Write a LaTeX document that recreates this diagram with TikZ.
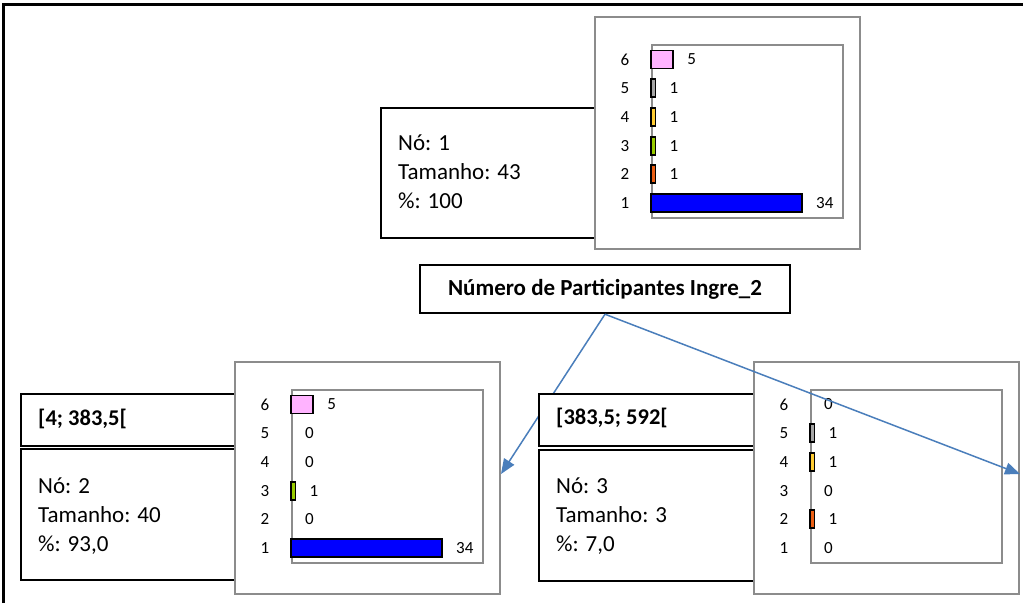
\documentclass[tikz,border=0pt]{standalone}
\usepackage{fontspec}
\setmainfont{Carlito}
\usetikzlibrary{arrows.meta,calc}
\definecolor{boxgray}{RGB}{140,140,140}
\definecolor{connblue}{RGB}{74,126,187}
\definecolor{cone}{RGB}{0,0,255}
\definecolor{ctwo}{RGB}{235,95,20}
\definecolor{cthree}{RGB}{153,204,0}
\definecolor{cfour}{RGB}{255,204,51}
\definecolor{cfive}{RGB}{165,165,165}
\definecolor{csix}{RGB}{255,179,255}
\pgfdeclarelayer{back}
\pgfsetlayers{back,main}
\tikzset{
  frameline/.style={line width=3pt, black},
  chartbox/.style={draw=boxgray, line width=2pt, fill=white, minimum width=265pt, minimum height=232pt, inner sep=0pt},
  plotbox/.style={draw=boxgray, line width=2pt, minimum width=191pt, minimum height=173pt, inner sep=0pt},
  bar/.style={draw=black, line width=1.8pt},
  rowlab/.style={font=\fontsize{17}{19}\selectfont, inner sep=0pt},
  vallab/.style={font=\fontsize{17}{19}\selectfont, inner sep=0pt, anchor=west},
  infobox/.style={draw=black, line width=2.4pt, fill=white, inner sep=0pt},
  infotext/.style={font=\fontsize{23}{29}\selectfont, align=left, inner sep=0pt, anchor=west},
  hdrtext/.style={font=\bfseries\fontsize{22.5}{24}\selectfont, inner sep=0pt, anchor=west},
  titlebox/.style={draw=black, line width=2.4pt, fill=white, minimum width=370pt, minimum height=48pt, inner sep=0pt, font=\bfseries\fontsize{23}{26}\selectfont},
  conn/.style={draw=connblue, line width=1.5pt, -{Triangle[length=15pt,width=12pt]}}
}
\newcommand\mychart[4]{%
  \node[chartbox, anchor=north west] (#1) at (#2,#3) {};
  \node[plotbox, anchor=north west] (#1in) at (#2+57,#3+28) {};
  \foreach \v/\c [count=\i] in {#4}{
    \pgfmathsetmacro\ry{#3+187-28.7*(\i-1)}
    \node[rowlab] (#1r\i) at (#2+31,\ry) {\i};
    \ifnum\v>0
      \draw[bar, fill=\c] (#2+57,\ry-9) rectangle ++(4.44*\v,18);
    \fi
    \node[vallab] (#1v\i) at (#2+57+4.44*\v+14,\ry) {\v};
  }
}
\begin{document}
\begin{tikzpicture}[x=1pt,y=-1pt]
\useasboundingbox (0,0) rectangle (1023,603);
\draw[frameline] (3.5,603) -- (3.5,4) -- (1023,4);

% node 1
\node[infobox, anchor=north west, minimum width=240pt, minimum height=130pt] (info1) at (380,107) {};
\node[infotext] (txt1) at (398,172) {Nó: 1\\Tamanho: 43\\\%: 100};

% title
\node[titlebox] (title) at (605,289) {Número de Participantes Ingre\_2};

% node 2
\node[infobox, anchor=north west, minimum width=240pt, minimum height=52pt] (hdr2) at (20,393) {};
\node[hdrtext] (hdrtxt2) at (38,419) {[4; 383,5[};
\node[infobox, anchor=north west, minimum width=240pt, minimum height=131pt] (info2) at (20,448) {};
\node[infotext] (txt2) at (38,516) {Nó: 2\\Tamanho: 40\\\%: 93,0};

% node 3
\node[infobox, anchor=north west, minimum width=240pt, minimum height=52pt] (hdr3) at (538,393) {};
\node[hdrtext] (hdrtxt3) at (556,418) {[383,5; 592[};
\node[infobox, anchor=north west, minimum width=240pt, minimum height=131pt] (info3) at (538,449) {};
\node[infotext] (txt3) at (556,516) {Nó: 3\\Tamanho: 3\\\%: 7,0};

% charts
\mychart{chartA}{594}{16}{34/cone,1/ctwo,1/cthree,1/cfour,1/cfive,5/csix}
\mychart{chartB}{234}{361}{34/cone,0/ctwo,1/cthree,0/cfour,0/cfive,5/csix}
\mychart{chartC}{753}{361}{0/cone,1/ctwo,0/cthree,1/cfour,1/cfive,0/csix}

% connectors
\begin{pgfonlayer}{back}
\draw[conn] (title.south) -- ([yshift=4pt]chartB.east);
\end{pgfonlayer}
\draw[conn] (title.south) -- ([yshift=4pt]chartC.east);
\end{tikzpicture}
\end{document}
